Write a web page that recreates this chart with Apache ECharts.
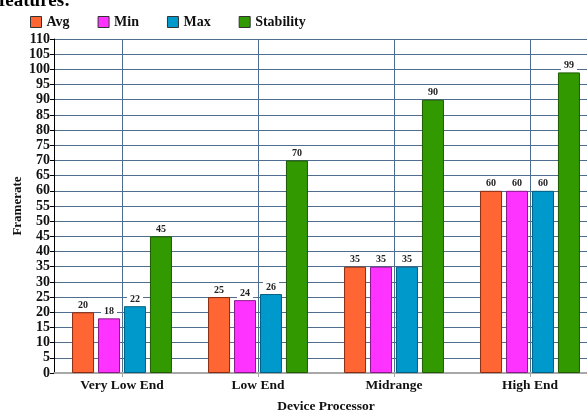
<!DOCTYPE html>
<html>
<head>
<meta charset="utf-8">
<script src="https://cdn.jsdelivr.net/npm/echarts@6/dist/echarts.min.js"></script>
<style>
  html, body { margin: 0; padding: 0; background: #fff; }
  #chart { width: 587px; height: 410px; }
</style>
</head>
<body>
<div id="chart"></div>
<script>
// Framerate by device processor tier
const categories = ['Very Low End', 'Low End', 'Midrange', 'High End'];
const avgValues = [20, 25, 35, 60];
const minValues = [18, 24, 35, 60];
const maxValues = [22, 26, 35, 60];
const stabilityValues = [45, 70, 90, 99];
const seriesNames = ['Avg', 'Min', 'Max', 'Stability'];

const serif = '"Liberation Serif", "DejaVu Serif", serif';
const fills = ['#ff6633', '#ff33ff', '#0099cc', '#339900'];
const edges = ['#8a2a10', '#8a1a8a', '#005f80', '#1d5a00'];
const allValues = [avgValues, minValues, maxValues, stabilityValues];

const chart = echarts.init(document.getElementById('chart'), null, { renderer: 'canvas' });

const series = seriesNames.map((name, i) => ({
  name: name,
  type: 'bar',
  data: allValues[i],
  barWidth: 22,
  barGap: '18%',
  itemStyle: { color: fills[i], borderColor: edges[i], borderWidth: 1 },
  label: {
    show: true,
    position: 'top',
    distance: 2,
    fontFamily: serif,
    fontWeight: 'bold',
    fontSize: 10,
    color: '#222',
    backgroundColor: '#fff',
    padding: [1, 3, 0, 3]
  }
}));

chart.setOption({
  animation: false,
  backgroundColor: '#fff',
  graphic: [{
    type: 'text',
    left: -1,
    top: -8,
    style: { text: 'features:', font: 'bold 19px ' + serif, fill: '#000' }
  }, {
    // vertical axis title
    type: 'text',
    x: 18,
    y: 206,
    rotation: Math.PI / 2,
    style: {
      text: 'Framerate',
      font: 'bold 13px ' + serif,
      fill: '#111',
      align: 'center',
      verticalAlign: 'middle'
    }
  }],
  legend: {
    data: seriesNames,
    left: 25,
    top: 10,
    itemWidth: 11,
    itemHeight: 11,
    itemGap: 28,
    icon: 'rect',
    itemStyle: { borderColor: '#333', borderWidth: 1 },
    textStyle: { fontFamily: serif, fontWeight: 'bold', fontSize: 14, color: '#111' }
  },
  grid: { left: 54, right: -11, top: 39, bottom: 37, containLabel: false, outerBoundsMode: 'none' },
  xAxis: {
    type: 'category',
    data: categories,
    name: 'Device Processor',
    nameLocation: 'middle',
    nameGap: 27,
    nameTextStyle: { fontFamily: serif, fontWeight: 'bold', fontSize: 13.5, color: '#111' },
    axisLine: { lineStyle: { color: '#a8a8a8', width: 2 } },
    axisTick: { show: true, alignWithLabel: true, length: 4, lineStyle: { color: '#a8a8a8' } },
    axisLabel: { fontFamily: serif, fontWeight: 'bold', fontSize: 13.5, color: '#111', margin: 6 },
    splitLine: { show: true, alignWithLabel: true, lineStyle: { color: '#4f6d8f', width: 1 } }
  },
  yAxis: {
    type: 'value',
    min: 0,
    max: 110,
    interval: 5,
    axisLine: { show: true, lineStyle: { color: '#000', width: 1 } },
    axisTick: { show: true, length: 4, lineStyle: { color: '#000' } },
    axisLabel: { fontFamily: serif, fontWeight: 'bold', fontSize: 14, color: '#111', margin: 4 },
    splitLine: { show: true, lineStyle: { color: '#4f6d8f', width: 1 } }
  },
  series: series
});
</script>
</body>
</html>
